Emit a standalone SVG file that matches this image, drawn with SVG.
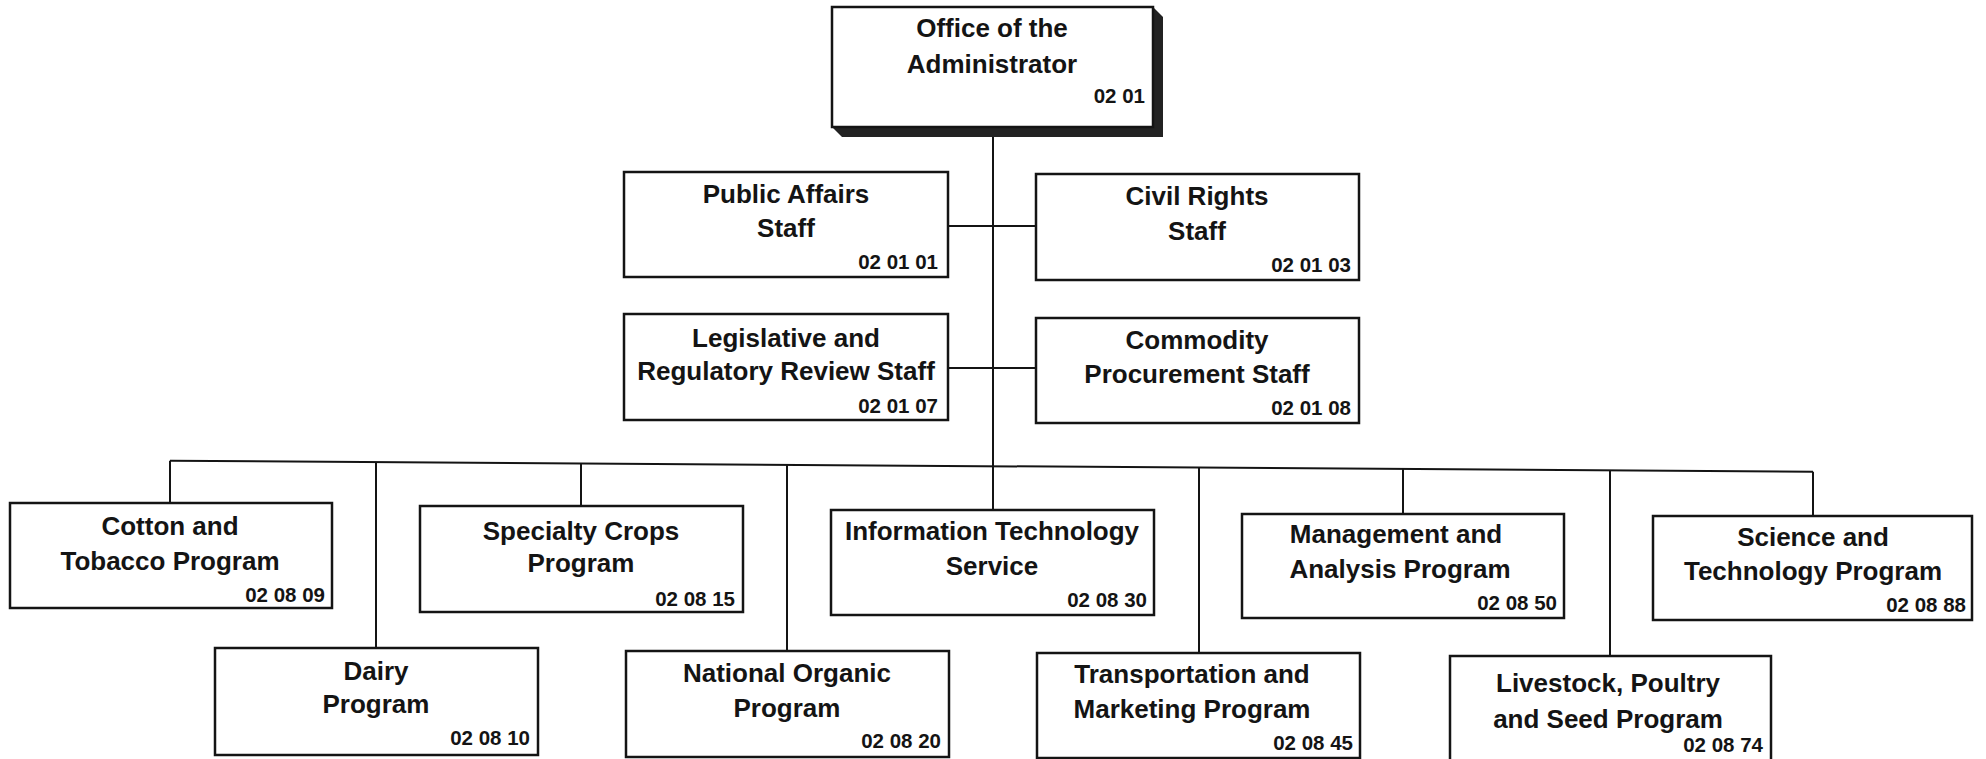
<svg xmlns="http://www.w3.org/2000/svg" width="1986" height="759" viewBox="0 0 1986 759">
<style>
.box{fill:#fff;stroke:#141414;stroke-width:2.5}
.t{font-family:"Liberation Sans",Arial,Helvetica,sans-serif;font-weight:bold;font-size:26px;text-anchor:middle;fill:#141414}
.c{font-family:"Liberation Sans",Arial,Helvetica,sans-serif;font-weight:bold;font-size:20.5px;text-anchor:end;fill:#141414}
.ln{stroke:#141414;stroke-width:2;fill:none}
</style>
<rect x="0" y="0" width="1986" height="759" fill="#fff"/>
<g id="connectors">
<line class="ln" x1="993" y1="127" x2="993" y2="510"/>
<line class="ln" x1="948" y1="226" x2="1036" y2="226"/>
<line class="ln" x1="948" y1="368" x2="1036" y2="368"/>
<line class="ln" x1="170" y1="460.7" x2="1813" y2="471.7"/>
<line class="ln" x1="170" y1="460.7" x2="170" y2="503"/>
<line class="ln" x1="376" y1="462.1" x2="376" y2="648"/>
<line class="ln" x1="581" y1="463.5" x2="581" y2="506"/>
<line class="ln" x1="787" y1="464.8" x2="787" y2="651"/>
<line class="ln" x1="1199" y1="467.6" x2="1199" y2="653"/>
<line class="ln" x1="1403" y1="469" x2="1403" y2="514"/>
<line class="ln" x1="1610" y1="470.3" x2="1610" y2="656"/>
<line class="ln" x1="1813" y1="471.7" x2="1813" y2="516"/>
</g>
<g id="n-admin">
<polygon points="1153,7 1163,17 1163,137 842,137 832,127" fill="#222"/>
<rect class="box" x="832" y="7" width="321" height="120"/>
<text class="t" x="992" y="37">Office of the</text>
<text class="t" x="992" y="73">Administrator</text>
<text class="c" x="1145" y="103">02 01</text>
</g>
<g id="n-public">
<rect class="box" x="624" y="172" width="324" height="105"/>
<text class="t" x="786" y="203">Public Affairs</text>
<text class="t" x="786" y="237">Staff</text>
<text class="c" x="938" y="269">02 01 01</text>
</g>
<g id="n-civil">
<rect class="box" x="1036" y="174" width="323" height="106"/>
<text class="t" x="1197" y="205">Civil Rights</text>
<text class="t" x="1197" y="240">Staff</text>
<text class="c" x="1351" y="272">02 01 03</text>
</g>
<g id="n-leg">
<rect class="box" x="624" y="314" width="324" height="106"/>
<text class="t" x="786" y="347">Legislative and</text>
<text class="t" x="786" y="380">Regulatory Review Staff</text>
<text class="c" x="938" y="413">02 01 07</text>
</g>
<g id="n-commodity">
<rect class="box" x="1036" y="318" width="323" height="105"/>
<text class="t" x="1197" y="349">Commodity</text>
<text class="t" x="1197" y="383">Procurement Staff</text>
<text class="c" x="1351" y="415">02 01 08</text>
</g>
<g id="n-cotton">
<rect class="box" x="10" y="503" width="322" height="105"/>
<text class="t" x="170" y="535">Cotton and</text>
<text class="t" x="170" y="570">Tobacco Program</text>
<text class="c" x="325" y="602">02 08 09</text>
</g>
<g id="n-specialty">
<rect class="box" x="420" y="506" width="323" height="106"/>
<text class="t" x="581" y="540">Specialty Crops</text>
<text class="t" x="581" y="572">Program</text>
<text class="c" x="735" y="606">02 08 15</text>
</g>
<g id="n-it">
<rect class="box" x="831" y="510" width="323" height="105"/>
<text class="t" x="992" y="540">Information Technology</text>
<text class="t" x="992" y="575">Service</text>
<text class="c" x="1147" y="607">02 08 30</text>
</g>
<g id="n-mgmt">
<rect class="box" x="1242" y="514" width="322" height="104"/>
<text class="t" x="1396" y="543">Management and</text>
<text class="t" x="1400" y="578">Analysis Program</text>
<text class="c" x="1557" y="610">02 08 50</text>
</g>
<g id="n-science">
<rect class="box" x="1653" y="516" width="319" height="104"/>
<text class="t" x="1813" y="546">Science and</text>
<text class="t" x="1813" y="580">Technology Program</text>
<text class="c" x="1966" y="612">02 08 88</text>
</g>
<g id="n-dairy">
<rect class="box" x="215" y="648" width="323" height="107"/>
<text class="t" x="376" y="680">Dairy</text>
<text class="t" x="376" y="713">Program</text>
<text class="c" x="530" y="745">02 08 10</text>
</g>
<g id="n-organic">
<rect class="box" x="626" y="651" width="323" height="106"/>
<text class="t" x="787" y="682">National Organic</text>
<text class="t" x="787" y="717">Program</text>
<text class="c" x="941" y="748">02 08 20</text>
</g>
<g id="n-transport">
<rect class="box" x="1037" y="653" width="323" height="105"/>
<text class="t" x="1192" y="683">Transportation and</text>
<text class="t" x="1192" y="718">Marketing Program</text>
<text class="c" x="1353" y="750">02 08 45</text>
</g>
<g id="n-livestock">
<rect class="box" x="1450" y="656" width="321" height="108"/>
<text class="t" x="1608" y="692">Livestock, Poultry</text>
<text class="t" x="1608" y="728">and Seed Program</text>
<text class="c" x="1763" y="752">02 08 74</text>
</g>
</svg>
